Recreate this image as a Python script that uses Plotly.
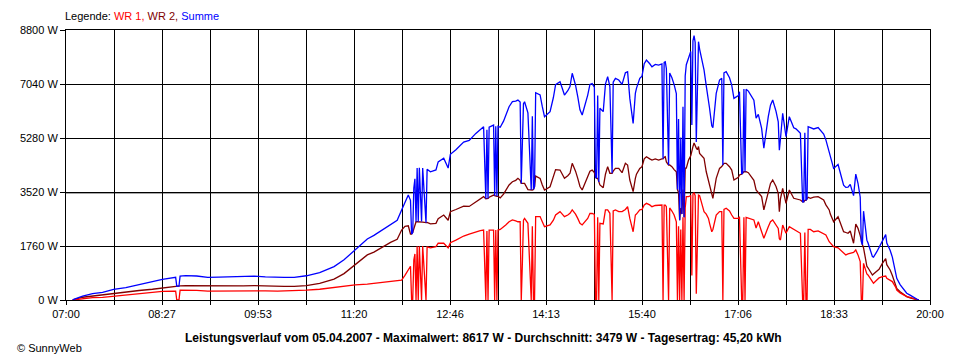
import pandas as pd
import plotly.graph_objects as go

DAY = "2007-04-05"

times = [
    "07:06", "07:07", "07:15", "07:24", "07:33", "07:43", "07:54", "08:06", "08:18", "08:27",
    "08:37", "08:39", "08:40", "08:42", "08:43", "08:48", "08:58", "09:08", "09:18", "09:29",
    "09:40", "09:50", "10:00", "10:11", "10:17", "10:26", "10:37", "10:49", "11:02", "11:11",
    "11:21", "11:32", "11:38", "11:47", "11:53", "11:59", "12:03", "12:06", "12:09", "12:11",
    "12:12", "12:13", "12:14", "12:15", "12:16", "12:17", "12:18", "12:19", "12:21", "12:22",
    "12:25", "12:26", "12:29", "12:34", "12:36", "12:41", "12:45", "12:47", "12:52", "12:59",
    "13:04", "13:10", "13:14", "13:17", "13:19", "13:20", "13:21", "13:22", "13:26", "13:27",
    "13:28", "13:29", "13:30", "13:32", "13:35", "13:37", "13:40", "13:43", "13:46", "13:48",
    "13:50", "13:51", "13:52", "13:53", "13:54", "13:57", "14:00", "14:01", "14:02", "14:03",
    "14:04", "14:08", "14:10", "14:12", "14:17", "14:20", "14:22", "14:26", "14:28", "14:30",
    "14:33", "14:35", "14:37", "14:40", "14:42", "14:44", "14:46", "14:49", "14:51", "14:53",
    "14:55", "14:57", "14:58", "14:59", "15:00", "15:01", "15:02", "15:05", "15:07", "15:09",
    "15:11", "15:12", "15:13", "15:14", "15:16", "15:19", "15:22", "15:25", "15:27", "15:29",
    "15:32", "15:34", "15:35", "15:38", "15:40", "15:42", "15:44", "15:47", "15:49", "15:52",
    "15:55", "15:58", "15:59", "16:00", "16:01", "16:02", "16:04", "16:05", "16:07", "16:09",
    "16:11", "16:12", "16:13", "16:14", "16:15", "16:16", "16:17", "16:18", "16:19", "16:20",
    "16:22", "16:24", "16:25", "16:26", "16:27", "16:28", "16:29", "16:30", "16:31", "16:32",
    "16:34", "16:36", "16:38", "16:40", "16:41", "16:43", "16:44", "16:47", "16:50", "16:52",
    "16:53", "16:54", "16:56", "16:59", "17:01", "17:03", "17:07", "17:08", "17:10", "17:11",
    "17:12", "17:13", "17:14", "17:16", "17:20", "17:21", "17:23", "17:25", "17:28", "17:30",
    "17:34", "17:36", "17:38", "17:41", "17:43", "17:44", "17:45", "17:47", "17:50", "17:53",
    "17:57", "17:59", "18:03", "18:05", "18:06", "18:07", "18:08", "18:09", "18:10", "18:12",
    "18:15", "18:19", "18:24", "18:26", "18:29", "18:30", "18:33", "18:37", "18:39", "18:42",
    "18:44", "18:46", "18:48", "18:51", "18:53", "18:55", "18:57", "18:58", "18:59", "19:00",
    "19:03", "19:04", "19:08", "19:09", "19:12", "19:14", "19:17", "19:19", "19:20", "19:21",
    "19:24", "19:26", "19:29", "19:30", "19:33", "19:36", "19:39", "19:42", "19:45", "19:48",
    "19:50",
]

wr1 = [
    0, 5, 35, 76, 87, 120, 152, 200, 245, 278,
    285, 285, 0, 0, 320, 326, 315, 290, 295, 300,
    300, 305, 300, 290, 293, 293, 320, 350, 410, 450,
    490, 520, 545, 565, 595, 620, 650, 800, 1000, 1100,
    0, 0, 1300, 1500, 0, 1750, 0, 1750, 0, 1760,
    0, 1730, 1700, 1740, 1850, 1850, 1700, 1870, 1950, 2085,
    2150, 2230, 2260, 2280, 0, 2250, 0, 2280, 2280, 0,
    2280, 0, 2280, 2300, 2380, 2445, 2550, 2610, 2580, 2550,
    2550, 0, 1200, 2600, 2660, 2500, 0, 2400, 0, 0,
    2715, 2720, 2550, 2390, 2445, 2600, 2770, 2880, 2800, 2715,
    2770, 2825, 2935, 2800, 2660, 2500, 2445, 2560, 2660, 2825,
    2820, 2790, 0, 0, 2700, 0, 2500, 2480, 2935, 2935,
    2825, 1470, 0, 2900, 2935, 2880, 2880, 2950, 3040, 2660,
    2225, 2770, 2800, 2935, 2950, 3100, 3150, 3100, 3040, 3080,
    3095, 3095, 0, 3095, 3095, 3040, 0, 3000, 2900, 2770,
    2550, 0, 2400, 0, 2300, 0, 2700, 0, 3000, 3370,
    3370, 3400, 800, 3450, 3500, 3400, 200, 1740, 3420, 3400,
    3095, 2880, 2800, 2660, 2500, 2225, 2300, 2770, 2880, 2880,
    0, 2950, 2990, 2900, 2770, 2660, 2660, 2715, 0, 0,
    2700, 0, 2690, 2660, 2610, 2610, 2345, 2550, 2225, 2010,
    2390, 2550, 2610, 2450, 2335, 2000, 1955, 2445, 2175, 2390,
    2300, 2280, 2175, 0, 0, 2200, 0, 0, 2300, 2300,
    2225, 2250, 2150, 2120, 1900, 1850, 1740, 1700, 1630, 1520,
    1470, 1500, 1520, 1550, 1630, 1470, 1250, 0, 0, 1195,
    850, 815, 600, 545, 650, 720, 760, 770, 780, 705,
    640, 600, 420, 325, 230, 163, 110, 87, 50, 22,
    0,
]

wr2 = [
    0, 15, 90, 130, 163, 225, 250, 310, 350, 395,
    450, 455, 455, 455, 460, 467, 467, 445, 450, 450,
    460, 470, 455, 440, 445, 445, 470, 545, 680, 860,
    1140, 1470, 1560, 1760, 1880, 1980, 2280, 2400, 2420, 2150,
    2150, 2200, 2350, 2450, 2550, 2550, 2550, 2560, 2560, 2540,
    2520, 2530, 2480, 2500, 2650, 2770, 2600, 2880, 2950, 3060,
    3050, 3200, 3300, 3370, 3300, 3300, 3310, 3350, 3420, 3400,
    3380, 3380, 3380, 3330, 3450, 3585, 3750, 3855, 3900, 3965,
    3900, 3800, 3800, 3800, 3800, 3600, 3585, 3585, 3600, 3700,
    4040, 3965, 3750, 3585, 3690, 4000, 4250, 4235, 4100, 3965,
    4050, 4130, 4455, 4200, 3965, 3700, 3585, 3850, 4020, 4200,
    4235, 4150, 4000, 3965, 3965, 3850, 3750, 3660, 4100, 4345,
    4130, 4130, 4130, 4200, 4290, 4290, 4150, 4455, 4400, 3910,
    3530, 3965, 4100, 4290, 4345, 4600, 4670, 4600, 4560, 4600,
    4560, 4600, 4600, 4650, 4670, 4500, 4400, 4400, 4345, 4250,
    4180, 3600, 3500, 2600, 3000, 2800, 3600, 2700, 4300, 4300,
    4560, 4700, 4900, 5000, 5117, 5000, 4950, 4900, 5000, 4780,
    4700, 4620, 4180, 3900, 3750, 3450, 3315, 3965, 4290, 4350,
    4400, 4455, 4455, 4345, 4235, 3910, 4000, 4075, 4100, 4150,
    4180, 4180, 4180, 4150, 3965, 3900, 3585, 3500, 3370, 2935,
    3585, 3800, 3910, 3700, 3475, 2880, 3300, 3640, 3150, 3585,
    3315, 3300, 3260, 3200, 3200, 3250, 3250, 3300, 3350, 3315,
    3350, 3370, 3260, 3100, 2935, 2800, 2550, 2715, 2500, 2225,
    2200, 2175, 2250, 1850, 2475, 2335, 2100, 1900, 1800, 1700,
    1100, 1050, 815, 850, 925, 1000, 1195, 1300, 1350, 1150,
    980, 800, 435, 380, 270, 180, 110, 70, 33, 10,
    0,
]

summe = [a + b for a, b in zip(wr1, wr2)]

y_ticks = [0, 1760, 3520, 5280, 7040, 8800]
y_tick_labels = ["0 W", "1760 W", "3520 W", "5280 W", "7040 W", "8800 W"]
x_tick_labels = ["07:00", "08:27", "09:53", "11:20", "12:46", "14:13",
                 "15:40", "17:06", "18:33", "20:00"]

title_text = ("Leistungsverlauf vom 05.04.2007 - Maximalwert: 8617 W - "
              "Durchschnitt: 3479 W - Tagesertrag: 45,20 kWh")

x = pd.to_datetime([f"{DAY} {t}" for t in times])
x_start = pd.Timestamp(f"{DAY} 07:00")
x_end = pd.Timestamp(f"{DAY} 20:00")
grid_pos = pd.date_range(x_start, x_end, periods=2 * len(x_tick_labels) - 1)
grid_text = []
for i in range(len(grid_pos)):
    grid_text.append(x_tick_labels[i // 2] if i % 2 == 0 else "")

FONT = "Liberation Sans"
fig = go.Figure()
fig.add_trace(go.Scatter(x=x, y=wr2, mode="lines", name="WR 2",
                         line=dict(color="#800000", width=1.3)))
fig.add_trace(go.Scatter(x=x, y=wr1, mode="lines", name="WR 1",
                         line=dict(color="#FF0000", width=1.3)))
fig.add_trace(go.Scatter(x=x, y=summe, mode="lines", name="Summe",
                         line=dict(color="#0000FF", width=1.3)))

# the page body has an 8px margin, so the figure is 8px smaller and margins shifted
fig.update_layout(
    width=952, height=352,
    margin=dict(l=52, r=30, t=22, b=60),
    paper_bgcolor="white", plot_bgcolor="white",
    showlegend=False,
    font=dict(family=FONT, size=11, color="black"),
    xaxis=dict(
        type="date", range=[x_start, x_end],
        tickmode="array", tickvals=list(grid_pos), ticktext=grid_text,
        showgrid=True, gridcolor="black", gridwidth=1,
        ticks="outside", ticklen=4, tickcolor="black",
        showline=True, linecolor="black", linewidth=1, mirror=True,
        zeroline=False, tickfont=dict(family=FONT, size=11, color="black"),
    ),
    yaxis=dict(
        range=[0, 8800],
        tickmode="array", tickvals=y_ticks, ticktext=y_tick_labels,
        showgrid=True, gridcolor="black", gridwidth=1,
        ticks="outside", ticklen=5, tickcolor="black",
        showline=True, linecolor="black", linewidth=1, mirror=True,
        zeroline=False, tickfont=dict(family=FONT, size=11, color="black"),
    ),
    shapes=[dict(type="line", xref="paper", x0=0, x1=1, yref="y",
                 y0=3520 - 8800 / 270 * 1.3, y1=3520 - 8800 / 270 * 1.3,
                 line=dict(color="#909090", width=1), layer="between")],
    annotations=[
        dict(xref="paper", yref="paper", x=-0.003, y=1.052, xanchor="left",
             yanchor="middle", showarrow=False,
             text=('Legende: <span style="color:#FF0000">WR 1,</span> '
                   '<span style="color:#800000">WR 2,</span> '
                   '<span style="color:#0000FF">Summe</span>'),
             font=dict(family=FONT, size=11, color="black")),
        dict(xref="paper", yref="paper", x=0.4828, y=-0.14, xanchor="center",
             yanchor="middle", showarrow=False, text="<b>" + title_text + "</b>",
             font=dict(family=FONT, size=12, color="black")),
        dict(xref="paper", yref="paper", x=-0.0586, y=-0.178, xanchor="left",
             yanchor="middle", showarrow=False, text="© SunnyWeb",
             font=dict(family=FONT, size=11, color="black")),
    ],
)

fig.write_html("out.html")
